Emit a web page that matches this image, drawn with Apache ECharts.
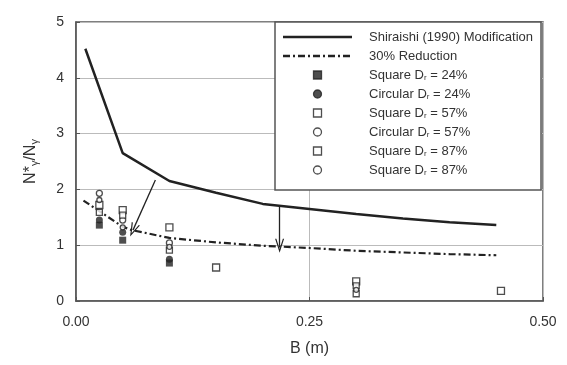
<!DOCTYPE html>
<html>
<head>
<meta charset="utf-8">
<script src="https://cdn.jsdelivr.net/npm/echarts@6/dist/echarts.min.js"></script>
<style>
  html, body { margin: 0; padding: 0; background: #fff; }
  #chart { width: 567px; height: 365px; }
</style>
</head>
<body>
<div id="chart"></div>
<script>
// curves: [B (m), N*/N]
const shiraishi = [[0.01, 4.52], [0.05, 2.65], [0.1, 2.15], [0.15, 1.94], [0.2, 1.74],
  [0.25, 1.65], [0.3, 1.56], [0.35, 1.48], [0.4, 1.41], [0.45, 1.36]];
const reduction = [[0.008, 1.8], [0.05, 1.33], [0.06, 1.27], [0.1, 1.13], [0.15, 1.05],
  [0.2, 0.99], [0.25, 0.95], [0.3, 0.9], [0.35, 0.87], [0.4, 0.84], [0.45, 0.82]];

// test points
const sq24 = [[0.025, 1.36], [0.05, 1.09], [0.1, 0.68]];
const ci24 = [[0.025, 1.45], [0.05, 1.23], [0.1, 0.75]];
const sq57 = [[0.025, 1.72], [0.05, 1.63], [0.1, 1.32], [0.15, 0.6], [0.3, 0.35], [0.455, 0.18]];
const ci57 = [[0.025, 1.93], [0.05, 1.45], [0.1, 1.04]];
const sq87 = [[0.025, 1.59], [0.05, 1.54], [0.1, 0.91], [0.3, 0.27], [0.3, 0.13]];
const ci87 = [[0.025, 1.81], [0.05, 1.32], [0.1, 0.97], [0.3, 0.2]];

// arrows from curve to reduced curve
const arrows = [
  [[0.085, 2.17], [0.061, 1.27]],
  [[0.218, 1.69], [0.218, 0.99]]
];

const xTicks = [0, 0.25, 0.5];
const yTicks = [0, 1, 2, 3, 4, 5];

const names = [
  'Shiraishi (1990) Modification',
  '30% Reduction',
  'Square D{s|r} = 24%',
  'Circular D{s|r} = 24%',
  'Square D{s|r} = 57%',
  'Circular D{s|r} = 57%',
  'Square D{s|r} = 87%',
  'Square D{s|r} = 87% '
];

const ink = '#222';
const vArrow = 'path://M0,10 L5,0 L10,10 L8.6,10 L5,2.6 L1.4,10 Z';
const square = 'path://M0,0 L10,0 L10,10 L0,10 Z';

// legend line icons, 69 wide
const solidIcon = 'path://M0,0 L69,0 L69,2.6 L0,2.6 Z';
function dashDotIcon() {
  let p = '', x = 0;
  const pat = [[7, 3], [2, 3]];
  let k = 0;
  while (x < 69) {
    const w = Math.min(pat[k % 2][0], 69 - x);
    p += `M${x},0 L${x + w},0 L${x + w},2.3 L${x},2.3 Z `;
    x += pat[k % 2][0] + pat[k % 2][1];
    k++;
  }
  // keep the full width in the bounding box
  p += 'M68.9,0 L69,0 L69,0.01 Z';
  return 'path://' + p;
}
const legendIcons = [solidIcon, dashDotIcon(), square, 'circle', square, 'circle', square, 'circle'];

const chart = echarts.init(document.getElementById('chart'));

function scatter(name, data, symbol, filled, size) {
  return {
    name: name,
    type: 'scatter',
    data: data,
    symbol: symbol,
    symbolSize: size,
    itemStyle: {
      color: filled ? ink : '#fff',
      borderColor: ink,
      borderWidth: filled ? 0 : 1.3
    },
    z: 5
  };
}

chart.setOption({
  animation: false,
  textStyle: { fontFamily: 'Liberation Sans, Arial, sans-serif' },
  grid: {
    left: 76, right: 24, top: 22, bottom: 64,
    show: true, borderColor: '#555', borderWidth: 1.5
  },
  xAxis: {
    type: 'value',
    min: xTicks[0], max: xTicks[xTicks.length - 1], interval: 0.25,
    name: 'B (m)',
    nameLocation: 'middle',
    nameGap: 40,
    nameTextStyle: { fontSize: 16, color: '#333' },
    axisLine: { show: true, lineStyle: { color: '#555', width: 1.5 } },
    axisTick: { show: true, inside: true, length: 4, lineStyle: { color: '#555' } },
    axisLabel: {
      fontSize: 14, color: '#333', margin: 14,
      formatter: v => v.toFixed(2)
    },
    splitLine: { show: true, lineStyle: { color: '#bbb', width: 1 } }
  },
  yAxis: {
    type: 'value',
    min: yTicks[0], max: yTicks[yTicks.length - 1], interval: 1,
    name: 'N*{s|γ}/N{s|γ}',
    nameLocation: 'middle',
    nameGap: 36,
    nameRotate: 90,
    nameTextStyle: {
      fontSize: 16, color: '#333',
      rich: { s: { fontSize: 11, color: '#333', verticalAlign: 'bottom', padding: [8, 0, 0, 0] } }
    },
    axisLine: { show: true, lineStyle: { color: '#555', width: 1.5 } },
    axisTick: { show: true, inside: true, length: 4, lineStyle: { color: '#555' } },
    axisLabel: { fontSize: 14, color: '#333', margin: 12 },
    splitLine: { show: true, lineStyle: { color: '#bbb', width: 1 } }
  },
  legend: {
    orient: 'vertical',
    left: 275, top: 22,
    padding: [8, 8, 13, 8],
    itemWidth: 69, itemHeight: 8,
    itemGap: 5,
    backgroundColor: '#fff',
    borderColor: '#555', borderWidth: 1.5,
    itemStyle: { borderWidth: 1.3 },
    textStyle: {
      fontSize: 13, color: '#333', lineHeight: 14,
      padding: [0, 0, 0, 12],
      rich: { s: { fontSize: 8, color: '#333', padding: [6, 0, 0, 0], lineHeight: 14 } }
    },
    data: names.map((n, i) => ({ name: n, icon: legendIcons[i] }))
  },
  series: [
    {
      name: names[0], type: 'line', data: shiraishi, symbol: 'none',
      lineStyle: { color: ink, width: 2.5 }, itemStyle: { color: ink }, z: 3
    },
    {
      name: names[1], type: 'line', data: reduction, symbol: 'none',
      lineStyle: { color: ink, width: 2.2, type: [7, 3, 2, 3] }, itemStyle: { color: ink }, z: 3,
      markLine: {
        silent: true,
        symbol: ['none', vArrow],
        symbolSize: [9, 14],
        label: { show: false },
        lineStyle: { color: ink, width: 1.3, type: 'solid' },
        data: arrows.map(a => [{ coord: a[0] }, { coord: a[1] }])
      }
    },
    scatter(names[2], sq24, 'rect', true, 7),
    scatter(names[3], ci24, 'circle', true, 7),
    scatter(names[4], sq57, 'rect', false, 7),
    scatter(names[5], ci57, 'circle', false, 6),
    scatter(names[6], sq87, 'rect', false, 6),
    scatter(names[7], ci87, 'circle', false, 5)
  ]
});
</script>
</body>
</html>
